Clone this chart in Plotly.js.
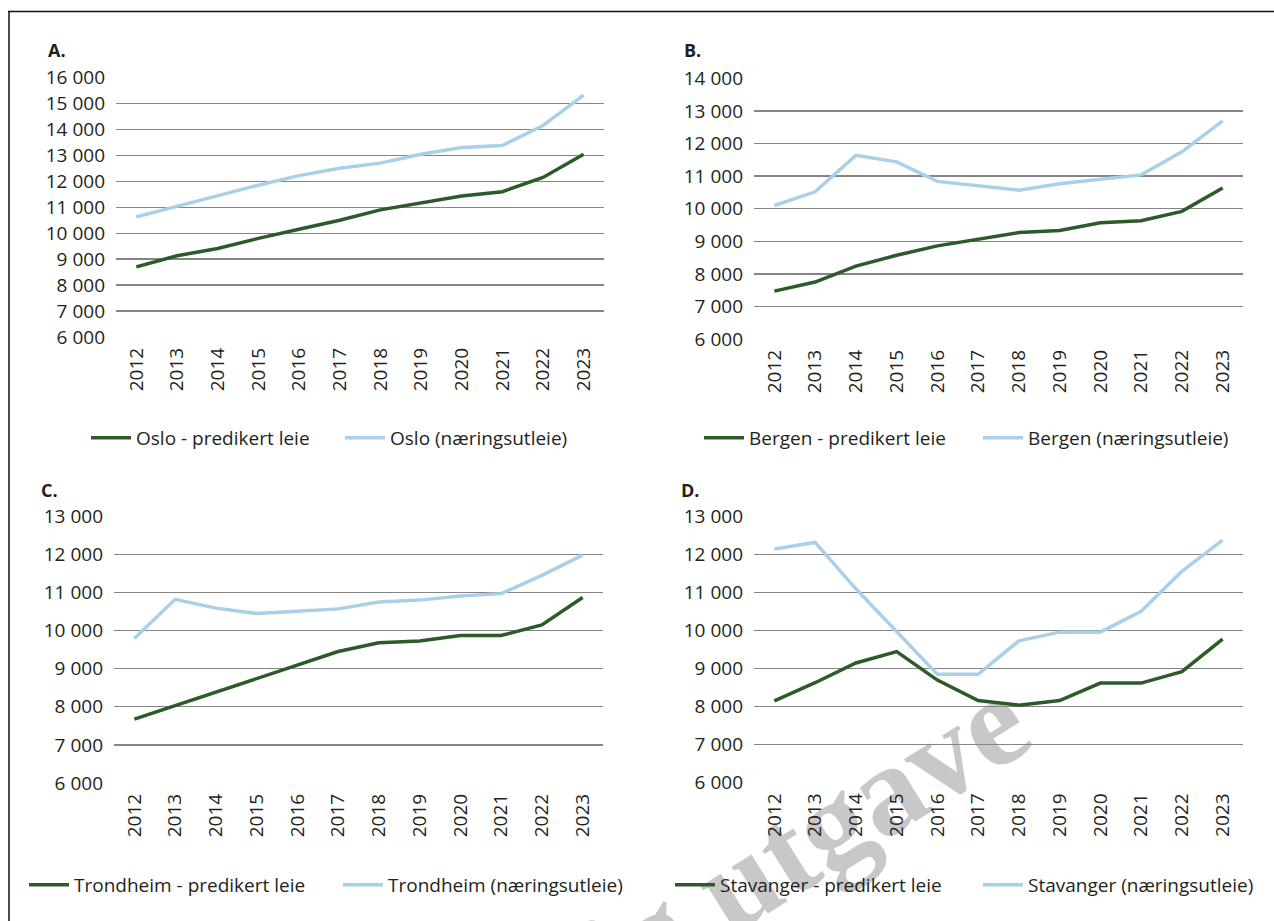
<!DOCTYPE html>
<html>
<head>
<meta charset="utf-8">
<script src="https://cdn.plot.ly/plotly-3.0.1.min.js"></script>
<style>
  html, body { margin: 0; padding: 0; background: #fff; }
  #chart { width: 1274px; height: 921px; }
</style>
</head>
<body>
<div id="chart"></div>
<script>
// ---- Data ----
const years = ['2012','2013','2014','2015','2016','2017','2018','2019','2020','2021','2022','2023'];

const osloPred      = [8700, 9130, 9410, 9800, 10150, 10500, 10900, 11150, 11430, 11600, 12150, 13040];
const osloNaering   = [10630, 11040, 11430, 11850, 12220, 12500, 12700, 13040, 13300, 13380, 14150, 15320];
const bergenPred    = [7470, 7750, 8240, 8570, 8860, 9060, 9270, 9330, 9570, 9630, 9920, 10640];
const bergenNaering = [10100, 10520, 11640, 11440, 10840, 10700, 10570, 10770, 10900, 11040, 11750, 12700];
const trondPred     = [7675, 8030, 8400, 8760, 9110, 9450, 9680, 9730, 9870, 9870, 10150, 10870];
const trondNaering  = [9790, 10820, 10590, 10450, 10510, 10570, 10750, 10800, 10910, 10970, 11450, 11980];
const stavPred      = [8150, 8630, 9150, 9450, 8700, 8160, 8040, 8160, 8620, 8620, 8920, 9780];
const stavNaering   = [12150, 12320, 11100, 9980, 8850, 8850, 9730, 9960, 9960, 10510, 11560, 12380];

const panelLetters = ['A.', 'B.', 'C.', 'D.'];
const seriesNames = [
  ['Oslo - predikert leie', 'Oslo (næringsutleie)'],
  ['Bergen - predikert leie', 'Bergen (næringsutleie)'],
  ['Trondheim - predikert leie', 'Trondheim (næringsutleie)'],
  ['Stavanger - predikert leie', 'Stavanger (næringsutleie)']
];
const yRanges = [[6000, 16000], [6000, 14000], [6000, 13000], [6000, 13000]];
const watermarkText = 'Foreløpig utgave';

// ---- Styling ----
const W = 1274, H = 921;
const DARK = '#2e5a2a';
const LIGHT = '#a9d0e8';
const TEXT = '#231f20';
const FONT = 'Open Sans, Noto Sans, sans-serif';
const FS = 19;

const px = v => v / W;
const py = v => 1 - v / H;

// panel geometry in pixels: [left, right, top, bottom]
const boxes = [
  [116, 604, 77.5, 337],
  [754, 1243, 78.5, 339],
  [114, 603, 516.3, 783],
  [754, 1243, 516.6, 782.7]
];

const predData = [osloPred, bergenPred, trondPred, stavPred];
const naerData = [osloNaering, bergenNaering, trondNaering, stavNaering];

const traces = [];
const layout = {
  width: W, height: H,
  margin: {l: 0, r: 0, t: 0, b: 0, autoexpand: false},
  paper_bgcolor: '#fff', plot_bgcolor: 'rgba(0,0,0,0)',
  separators: ', ',
  font: {family: FONT, size: FS, color: TEXT},
  showlegend: true,
  annotations: [],
  shapes: []
};

// x: where legend box starts (px), y: row centre (px), ew: entry text width (px)
const legendPos = [
  {x: 86, y: 438, ew: 199},
  {x: 699, y: 438, ew: 224},
  {x: 24, y: 885, ew: 259},
  {x: 670, y: 885, ew: 253}
];
const letterPos = [[46, 50], [682, 50], [39, 490], [679, 490]];

for (let i = 0; i < 4; i++) {
  const n = i === 0 ? '' : String(i + 1);
  const xa = 'x' + n, ya = 'y' + n;
  const lg = i === 0 ? 'legend' : 'legend' + (i + 1);
  traces.push({
    x: years, y: predData[i], xaxis: xa, yaxis: ya, type: 'scatter', mode: 'lines',
    name: seriesNames[i][0], legend: lg,
    line: {color: DARK, width: 3.5}
  });
  traces.push({
    x: years, y: naerData[i], xaxis: xa, yaxis: ya, type: 'scatter', mode: 'lines',
    name: seriesNames[i][1], legend: lg,
    line: {color: LIGHT, width: 3.5}
  });
  const b = boxes[i];
  layout['xaxis' + n] = {
    domain: [px(b[0]), px(b[1])],
    anchor: ya,
    type: 'category',
    range: [-0.5, 11.5],
    showgrid: false, zeroline: false, showline: false,
    ticks: '', tickangle: -90,
    ticklabelstandoff: 6,
    tickfont: {family: FONT, size: FS, color: TEXT},
    fixedrange: true
  };
  layout['yaxis' + n] = {
    domain: [py(b[3]), py(b[2])],
    anchor: xa,
    range: yRanges[i],
    tick0: 6000, dtick: 1000,
    tickformat: ',d',
    showgrid: true, gridcolor: '#858585', gridwidth: 1.4,
    zeroline: false, showline: false, ticks: '',
    ticklabelstandoff: 10,
    tickfont: {family: FONT, size: FS, color: TEXT},
    fixedrange: true
  };
  const L = legendPos[i];
  layout[lg] = {
    orientation: 'h',
    x: px(L.x), xanchor: 'left',
    y: py(L.y), yanchor: 'middle',
    entrywidth: L.ew, entrywidthmode: 'pixels',
    itemwidth: 40,
    font: {family: FONT, size: FS, color: TEXT},
    bgcolor: 'rgba(0,0,0,0)',
    traceorder: 'normal'
  };
  layout.annotations.push({
    xref: 'paper', yref: 'paper',
    x: px(letterPos[i][0]), y: py(letterPos[i][1]),
    xanchor: 'left', yanchor: 'middle',
    text: '<b>' + panelLetters[i] + '</b>',
    showarrow: false,
    font: {family: FONT, size: 18, color: TEXT}
  });
}

// watermark: transparent shape drawn below the data, carrying a rotated label
const wmCx = 618, wmCy = 940;
layout.shapes.push({
  type: 'rect', xref: 'paper', yref: 'paper', layer: 'below',
  x0: px(wmCx - 20), x1: px(wmCx + 20), y0: py(wmCy + 20), y1: py(wmCy - 20),
  fillcolor: 'rgba(0,0,0,0)', line: {width: 0},
  label: {
    text: '<b>' + watermarkText + '</b>',
    textposition: 'middle center',
    textangle: -32,
    font: {family: 'Liberation Serif, DejaVu Serif, serif', size: 128, color: '#c8c8c8'}
  }
});

// frame lines (top and left)
layout.shapes.push({
  type: 'line', xref: 'paper', yref: 'paper',
  x0: px(8), x1: 1, y0: py(11.5), y1: py(11.5),
  line: {color: '#111', width: 1.5}
});
layout.shapes.push({
  type: 'line', xref: 'paper', yref: 'paper',
  x0: px(9), x1: px(9), y0: py(11), y1: 0,
  line: {color: '#111', width: 1.5}
});

Plotly.newPlot('chart', traces, layout, {displayModeBar: false, staticPlot: true});
</script>
</body>
</html>
